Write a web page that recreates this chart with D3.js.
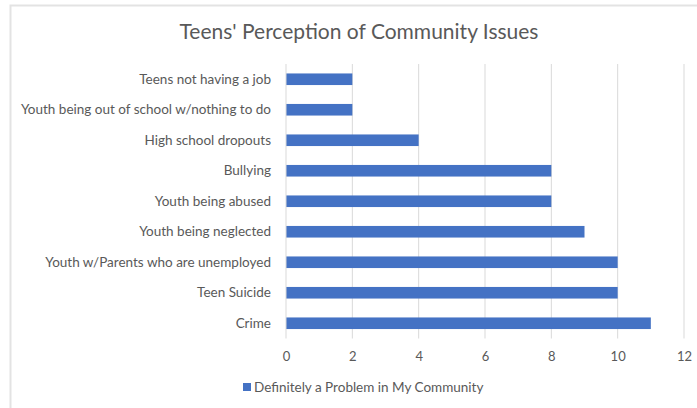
<!DOCTYPE html>
<html>
<head>
<meta charset="utf-8">
<script src="https://cdn.jsdelivr.net/npm/d3@7"></script>
<style>
  body { margin: 0; background: #fff; }
  text { font-family: Lato, "Open Sans", sans-serif; fill: #595959; }
</style>
</head>
<body>
<svg id="svg"></svg>
<script>
const W = 697, H = 408;

const categories = [
    "Teens not having a job",
    "Youth being out of school w/nothing to do",
    "High school dropouts",
    "Bullying",
    "Youth being abused",
    "Youth being neglected",
    "Youth w/Parents who are unemployed",
    "Teen Suicide",
    "Crime"
];
const values = [2, 2, 4, 8, 8, 9, 10, 10, 11];
const xTicks = [0, 2, 4, 6, 8, 10, 12];
const seriesName = "Definitely a Problem in My Community";
const title = "Teens' Perception of Community Issues";

const svg = d3.select("#svg").attr("width", W).attr("height", H);

// chart frame
svg.append("rect")
    .attr("x", 10.5).attr("y", 5.5)
    .attr("width", W + 10).attr("height", H + 10)
    .attr("fill", "#fff")
    .attr("stroke", "#e3e3e3")
    .attr("stroke-width", 2);

const x = d3.scaleLinear().domain([0, 12]).range([286, 684]);
const y = d3.scaleBand().domain(categories).range([64, 338.5])
    .paddingInner(0.62).paddingOuter(0.31);

// gridlines
svg.append("g")
    .selectAll("line")
    .data(xTicks.slice(1))
    .join("line")
    .attr("x1", d => x(d)).attr("x2", d => x(d))
    .attr("y1", 64).attr("y2", 338.5)
    .attr("stroke", "#d9d9d9")
    .attr("stroke-width", 1);

// bars
svg.append("g")
    .selectAll("rect")
    .data(values)
    .join("rect")
    .attr("x", x(0))
    .attr("y", (d, i) => y(categories[i]))
    .attr("width", d => x(d) - x(0))
    .attr("height", y.bandwidth())
    .attr("fill", "#4472C4");

// category axis line
svg.append("line")
    .attr("x1", x(0)).attr("x2", x(0))
    .attr("y1", 64).attr("y2", 338.5)
    .attr("stroke", "#d9d9d9");

// category labels
svg.append("g")
    .selectAll("text")
    .data(categories)
    .join("text")
    .attr("x", 271)
    .attr("y", d => y(d) + y.bandwidth() / 2)
    .attr("dy", "0.35em")
    .attr("text-anchor", "end")
    .attr("font-size", 13.5)
    .text(d => d);

// value axis labels
const xAxis = d3.axisBottom(x).tickValues(xTicks).tickSize(0).tickPadding(0);
const gx = svg.append("g").attr("transform", "translate(0,352)").call(xAxis);
gx.select(".domain").remove();
gx.selectAll("text")
    .attr("font-size", 13)
    .attr("font-family", null)
    .attr("fill", null);

// title
svg.append("text")
    .attr("x", 359).attr("y", 39)
    .attr("text-anchor", "middle")
    .attr("font-size", 21)
    .text(title);

// legend
svg.append("rect")
    .attr("x", 243).attr("y", 383)
    .attr("width", 8).attr("height", 8)
    .attr("fill", "#4472C4");
svg.append("text")
    .attr("x", 254).attr("y", 392)
    .attr("font-size", 13.5)
    .text(seriesName);
</script>
</body>
</html>
